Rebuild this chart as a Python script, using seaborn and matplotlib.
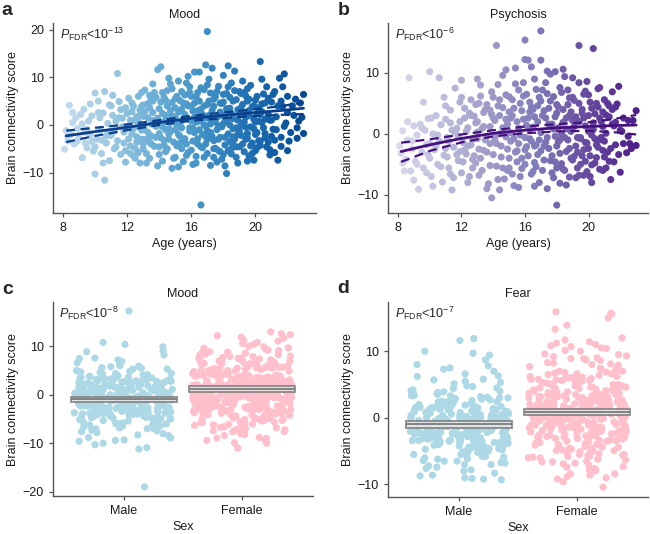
import numpy as np
import pandas as pd
import matplotlib
matplotlib.use("Agg")
import matplotlib.pyplot as plt
from matplotlib.patches import Rectangle
import seaborn as sns


def nums(s):
    return [float(v) for v in s.split()]


def pairs(s):
    v = nums(s)
    return list(zip(v[0::2], v[1::2]))


# ---- panel a: mood score vs age, "age score" pairs ----
mood_pts = pairs("""
8.1 -5.1 8.2 -1.2 8.3 -3.4 8.4 4.1 8.5 -2.0 8.6 0.5 8.7 -4.0 8.8 1.5 8.9 -0.8
9.0 -2.8 9.1 2.2 9.2 -6.9 9.3 3.3 9.4 -1.5 9.5 -4.8 9.6 0.8 9.7 -2.1 9.8 1.9 9.9 -5.5
10.0 6.7 10.0 -10.3 10.1 -3.0 10.2 5.0 10.3 -1.0 10.4 -6.0 10.5 2.5 10.6 7.0 10.6 -11.6
10.7 -3.8 10.8 0.3 10.9 -7.5 10.9 4.2 11.0 -2.2 11.1 2.0 11.2 -5.0 11.3 0.8 11.4 10.8 11.4 -3.3
11.5 4.9 11.6 -6.2 11.7 1.4 11.8 -1.5 11.9 3.6 11.9 -7.8 12.0 -0.3 12.1 5.6 12.2 -4.4 12.3 2.8
12.4 -6.5 12.5 0.9 12.6 -2.5 12.7 6.0 12.8 -8.0 12.9 3.9 12.9 -1.1 13.0 -5.0 13.0 1.8 13.1 7.3
13.2 -3.0 13.3 4.5 13.4 -7.0 13.5 0.2 13.6 2.6 13.7 -4.5 13.8 5.8 13.9 11.6 13.9 -8.6 14.0 -1.8
14.0 3.4 14.1 12.2 14.1 -2.7 14.2 6.8 14.3 0.7 14.4 -5.6 14.5 4.0 14.6 -0.8 14.7 8.6 14.8 -9.1
14.8 1.9 14.9 -3.6 15.0 5.5 15.0 -6.8 15.1 0.1 15.2 9.2 15.3 -2.4 15.4 3.3 15.5 -7.7 15.6 6.3
15.7 -4.0 15.8 1.2 15.9 -1.3 15.9 8.0 16.0 -5.3 16.0 3.9 16.1 -8.3 16.2 11.1 16.3 0.6 16.4 -2.9
16.5 11.1 16.5 5.0 16.6 -16.8 16.6 -4.6 16.7 2.2 16.8 7.4 16.9 12.6 16.9 -0.2 17.0 19.6 17.0 -6.0
17.0 4.3 17.1 9.6 17.2 -8.5 17.2 1.0 17.3 11.9 17.4 -3.3 17.5 5.9 17.6 -1.0 17.7 8.1 17.7 -5.4
17.8 2.7 17.9 -7.2 18.0 4.8 18.0 0.3 18.1 -4.2 18.2 -10.2 18.2 6.6 18.3 12.4 18.3 -1.9 18.4 3.5
18.5 8.8 18.5 -6.1 18.6 1.3 18.7 11.3 18.7 -3.0 18.8 5.3 18.9 -8.0 19.0 2.1 19.0 7.0 19.1 -2.2
19.2 4.3 19.3 -5.6 19.4 6.1 19.4 -0.5 19.5 -7.6 19.6 3.0 19.7 8.3 19.8 -3.8 19.9 1.2 20.0 5.2
20.0 -5.4 20.1 -1.6 20.2 3.6 20.3 13.3 20.3 -4.3 20.4 0.5 20.5 6.5 20.6 -2.7 20.7 8.0 20.8 2.2
20.9 -6.3 21.0 4.8 21.1 -0.9 21.2 7.0 21.3 1.7 21.4 -7.4 21.5 9.8 21.6 -2.6 21.7 3.9 21.8 10.7
21.9 0.4 22.0 -5.4 22.0 6.0 22.2 -1.6 22.4 2.0 22.5 5.4 22.6 -0.6 22.7 0.8 22.8 4.6 23.0 -1.8 23.0 6.4
12.2 1.0 12.4 3.9 12.6 -3.6 12.8 2.0 13.1 -1.0 13.3 1.5 13.5 -2.3 13.6 5.0 13.8 -0.3 14.0 -4.6
14.2 2.4 14.3 -3.2 14.4 5.2 14.6 -1.9 14.7 3.0 14.9 0.8 15.1 -4.4 15.2 2.7 15.3 5.1 15.4 -0.6
15.6 -2.9 15.7 4.4 15.8 -5.8 16.0 0.9 16.1 2.9 16.2 -1.6 16.3 5.9 16.4 -4.0 16.6 3.3 16.7 -2.0
16.8 0.0 16.9 -4.0 17.1 2.0 17.2 6.7 17.3 -2.4 17.4 3.9 17.5 -4.9 17.6 1.6 17.8 -2.6 17.9 4.5
18.0 -6.2 18.1 1.5 18.2 3.4 18.4 -3.5 18.4 0.0 18.6 5.0 18.6 -2.5 18.8 -0.6 18.9 3.2 19.0 -4.6
19.1 6.6 19.2 0.4 19.3 2.5 19.5 -1.8 19.5 5.0 19.7 -4.4 19.8 3.8 19.9 -0.8 20.1 2.4 20.2 -3.3
20.4 4.4 20.6 1.2 20.8 -3.6 21.0 1.0 21.2 -3.2 21.6 5.0 11.2 -1.3 11.5 1.5 11.8 -3.8 10.3 1.5
10.7 -2.3 9.8 -3.5 12.3 -1.8 13.0 4.2 13.7 0.8 14.5 -5.0 15.0 3.6 15.5 1.2 16.5 0.8 17.0 -1.2
17.7 -0.2 18.3 8.0 19.4 -3.0 20.0 0.6 16.8 -6.8 15.9 6.8 14.8 7.6 13.4 6.2 12.5 -4.9 18.5 -5.0
19.6 -6.5 17.4 -6.8
12.0 2.4 12.1 -2.9 12.3 4.6 12.4 -0.8 12.6 1.7 12.7 -5.8 12.8 3.1 12.9 -3.0 13.0 -0.2 13.1 2.8
13.2 -6.0 13.3 -1.6 13.4 3.6 13.5 -4.0 13.6 0.9 13.7 6.8 13.8 -2.6 13.9 1.4 14.0 -6.2 14.1 4.8
14.2 -0.4 14.3 -4.2 14.4 2.0 14.5 7.2 14.6 -3.0 14.7 0.5 14.8 4.7 14.9 -7.0 15.0 -1.0 15.1 6.0
15.2 -2.0 15.3 0.3 15.4 7.0 15.5 -3.4 15.6 2.2 15.7 -6.4 15.8 4.0 15.9 -0.6 16.0 6.0 16.1 -3.4
16.2 1.6 16.3 -6.6 16.4 3.0 16.5 -1.0 16.6 7.8 16.7 -4.8 16.8 4.0 16.9 1.5 17.0 -3.0 17.1 5.0
17.2 -1.6 17.3 3.0 17.4 -5.0 17.5 0.6 17.6 7.0 17.7 -3.0 17.8 4.6 17.9 -0.4 18.0 6.4 18.1 -2.6
18.2 1.0 18.3 -5.4 18.4 5.8 18.5 2.4 18.6 -0.8 18.7 7.2 18.8 -4.6 18.9 1.0 19.0 -1.4 19.1 3.6
19.2 -4.0 19.3 6.8 19.4 1.6 19.5 -2.8 19.6 5.4 19.7 -0.4 19.8 -6.0 19.9 4.0 20.0 -2.0 20.1 6.0
20.2 0.8 20.3 -3.4 20.4 2.8 20.5 -0.6 20.6 4.6 20.7 -4.6 20.8 5.6 20.9 1.0 21.0 -2.4 21.1 6.4
21.3 -1.0 21.4 4.0 21.6 -4.5 21.7 8.0 21.8 -0.3 22.0 2.6 22.1 -3.4 22.3 4.0 22.6 -2.8 22.9 1.6
8.3 -2.4 8.6 2.6 8.9 -3.4 9.2 0.2 9.5 -1.0 9.7 4.4 10.0 -4.6 10.2 2.6 10.5 -8.0 10.8 -1.6
11.0 4.0 11.3 -4.6 11.6 3.2 11.9 -5.4 11.1 6.2 10.4 -3.2 9.4 -3.8 11.7 -0.4 12.5 -7.0 12.9 6.8
13.2 -8.0 13.6 8.6 14.2 -7.6 14.6 9.8 15.2 -8.8 15.8 10.2 16.3 -8.0 17.0 8.4 17.6 -7.8 18.0 10.4
18.8 -6.8 19.2 9.2 19.9 -7.4 20.4 9.6 20.9 -5.2 21.2 -5.8 14.0 0.0 15.5 4.6 16.1 -0.6 17.2 0.2
18.3 3.0 19.1 -0.2 12.7 0.6 13.4 -3.6 14.7 -1.4 15.4 -5.0 16.6 1.2 17.8 -5.6 18.9 -2.0 19.6 2.0
20.3 2.2 13.0 -4.0 14.3 5.8 15.0 1.6 15.7 8.8 16.4 6.8 17.4 5.4 18.1 -8.6 19.5 7.6 20.6 -1.8
12.2 -6.0 13.5 5.4 14.4 -1.0 15.3 -3.8 16.2 4.6 16.9 -2.4 17.9 2.0 18.6 -4.0 19.3 0.6 20.1 -4.8
""")
# fitted curve and confidence band
mood_fit_age = [8.2, 10, 12, 14, 16, 18, 20, 21.5, 23]
mood_fit = [-2.3, -1.4, -0.5, 0.5, 1.4, 2.0, 2.6, 3.0, 3.5]
mood_fit_hi = [-1.2, -0.6, 0.1, 1.0, 1.9, 2.6, 3.3, 3.9, 4.7]
mood_fit_lo = [-3.6, -2.3, -1.1, 0.0, 0.9, 1.4, 1.9, 2.1, 2.3]

# ---- panel b: psychosis score vs age ----
psy_pts = pairs("""
8.1 -2.0 8.2 -3.2 8.3 0.5 8.4 -6.1 8.5 -4.2 8.6 -1.0 8.7 9.2 8.8 -6.1 8.9 -2.5 9.0 1.3
9.1 -4.5 9.2 -0.2 9.3 -9.1 9.4 1.6 9.5 -3.0 9.6 -5.6 9.7 0.6 9.8 -1.8 9.9 2.5 10.0 10.2
10.0 -4.0 10.1 -7.0 10.2 0.0 10.3 -2.6 10.4 3.0 10.5 -5.0 10.6 9.2 10.6 -1.2 10.7 1.5
10.8 -7.9 10.9 -3.5 11.0 2.4 11.1 -0.6 11.2 -5.6 11.3 3.9 11.4 -9.2 11.5 -2.2 11.6 7.5
11.7 0.9 11.8 -4.4 11.9 2.0 12.0 8.8 12.0 -6.4 12.1 -1.4 12.2 4.2 12.3 -3.3 12.4 1.0
12.5 -7.0 12.6 5.6 12.7 -0.9 12.8 2.9 12.9 -4.8 13.0 9.0 13.0 0.3 13.1 -2.5 13.2 6.2
13.3 -6.0 13.4 3.5 13.5 -1.0 13.6 4.8 13.7 -8.2 13.8 1.2 13.9 -10.5 13.9 6.9 14.0 -3.4
14.1 2.2 14.2 14.5 14.2 -5.3 14.3 8.1 14.4 0.0 14.5 -2.0 14.6 4.3 14.7 -7.4 14.8 10.5
14.9 1.6 15.0 -4.0 15.0 6.1 15.1 -1.2 15.2 3.0 15.3 -8.5 15.4 8.2 15.5 -2.8 15.6 0.9
15.7 5.0 15.8 -5.7 15.9 2.4 16.0 15.4 16.0 12.2 16.0 -0.6 16.1 6.5 16.2 12.1 16.2 -3.6
16.3 3.6 16.4 -6.6 16.5 1.1 16.6 9.0 16.7 -1.8 16.8 4.6 16.9 -8.0 17.0 16.9 17.0 12.1
17.0 0.2 17.1 7.2 17.2 -4.3 17.3 2.6 17.4 10.3 17.5 -2.4 17.6 5.4 17.7 -6.4 17.8 0.8
17.9 10.2 18.0 -11.7 18.0 3.4 18.1 -1.3 18.2 7.6 18.3 -4.9 18.4 1.9 18.5 9.4 18.6 -2.9
18.7 4.8 18.8 -7.1 18.9 0.4 19.0 6.0 19.1 -3.7 19.2 2.8 19.3 -5.6 19.4 14.5 19.4 8.4
19.5 -0.8 19.6 4.0 19.7 -6.8 19.8 1.3 19.9 8.6 20.0 -2.4 20.1 5.2 20.2 -5.1 20.3 14.0
20.3 0.7 20.4 3.3 20.5 -3.9 20.6 7.4 20.7 -1.0 20.8 2.0 20.9 -6.0 21.0 5.6 21.1 0.1
21.2 -3.0 21.3 4.6 21.4 -7.5 21.5 6.9 21.6 1.3 21.7 -1.8 21.8 4.9 21.9 7.8 22.0 -6.3
22.1 0.4 22.2 -1.6 22.4 -3.1 22.5 2.2 22.6 -1.6 22.8 2.2 23.0 -1.9 23.0 3.8
12.4 -2.0 12.9 1.8 13.2 -4.0 13.6 -0.4 13.8 3.9 14.1 -1.1 14.4 5.6 14.6 -5.6 14.8 -0.5
15.1 2.6 15.3 4.2 15.5 -4.6 15.7 -0.2 15.9 6.2 16.1 -2.1 16.3 0.8 16.4 4.4 16.6 -4.7
16.8 2.0 16.9 -1.0 17.1 -6.0 17.2 3.8 17.4 -0.6 17.5 1.6 17.7 -3.6 17.8 6.1 18.0 -2.0
18.1 4.4 18.3 0.0 18.4 -5.8 18.6 2.6 18.7 -1.0 18.9 3.6 19.0 -4.3 19.1 5.5 19.3 -0.6
19.4 2.0 19.6 -3.6 19.7 6.5 19.9 -1.5 20.0 3.0 20.2 -0.2 20.4 -4.8 20.5 5.0 20.7 2.6
20.9 -2.7 21.1 3.1 21.3 -4.5 21.5 4.0 21.7 1.9 11.0 -2.4 11.3 -6.6 11.6 0.3 11.9 -2.9
10.5 -0.2 9.9 -3.4 12.2 2.6 12.7 -5.6 13.4 -2.7 14.0 6.0 14.9 -2.5 15.6 7.2 16.5 -6.2
17.3 8.4 18.2 -8.1 18.8 5.9 19.2 -7.2 19.8 -4.5 20.1 -7.0 20.6 -2.2 15.2 -6.6 14.3 -7.5
13.1 5.0 16.7 7.3 17.9 -4.6 18.5 -0.6
8.3 -4.8 8.6 2.0 8.9 -1.2 9.2 -5.0 9.5 1.0 9.8 -6.4 10.1 2.6 10.4 -2.0 10.7 -5.4 11.0 4.6
11.2 -1.2 11.4 0.6 11.7 -3.4 11.9 5.2 12.1 -4.6 12.3 0.4 12.5 3.4 12.6 -1.8 12.8 -3.6 13.0 2.0
13.1 -6.8 13.3 0.9 13.5 4.0 13.6 -3.0 13.8 -5.2 14.0 2.6 14.1 -0.6 14.3 4.6 14.5 -3.8 14.6 1.0
14.8 6.4 14.9 -6.0 15.1 0.2 15.2 5.6 15.4 -3.0 15.5 2.0 15.7 -7.0 15.8 3.8 16.0 -2.6 16.1 1.4
16.3 5.2 16.4 -1.2 16.6 2.8 16.7 -5.4 16.9 6.0 17.0 -2.8 17.1 3.0 17.3 -1.4 17.4 6.6 17.6 -4.4
17.7 1.6 17.9 -0.4 18.0 4.8 18.2 -3.2 18.3 6.8 18.5 -6.0 18.6 0.8 18.8 3.0 18.9 -4.0 19.1 1.2
19.2 -2.0 19.4 5.0 19.5 -5.0 19.7 2.6 19.8 -1.4 20.0 6.4 20.1 -3.6 20.3 1.8 20.4 -0.8 20.6 4.4
20.7 -5.8 20.9 3.6 21.0 -1.2 21.2 5.0 21.4 -2.4 21.5 1.6 21.7 4.4 21.9 -3.4 22.2 2.6 22.5 -0.4
12.0 6.0 13.2 8.0 14.6 9.6 15.4 10.8 16.4 11.0 17.6 9.8 18.4 10.6 19.0 9.2 19.8 7.0 20.7 7.6
12.4 -8.0 13.6 -9.0 14.4 -9.2 15.6 -8.8 16.6 -8.6 17.4 -9.0 18.6 -8.4 19.4 -6.8 20.2 -8.0 21.1 -5.6
9.0 -7.6 9.6 5.2 10.2 -8.6 10.9 6.0 11.5 -7.2 11.8 -0.4 12.2 -2.6 13.4 1.2 14.2 -1.6 15.0 3.6
15.8 -4.0 16.5 4.0 17.2 -2.0 18.1 1.0 18.7 7.2 19.3 -3.0 20.0 0.4 20.8 -0.6 14.8 2.4 16.0 -5.0
17.8 -7.2 19.6 3.4 13.0 -0.8 14.4 3.0 15.6 -1.6 16.8 -3.4 18.0 -5.6 19.0 2.2 20.2 4.2 21.0 -3.8
12.6 3.0 13.8 -1.6 15.0 -5.6 16.2 2.6 17.5 4.2 18.8 -2.4 19.9 -6.2 21.3 2.8 22.0 0.6 22.7 -2.4
11.1 -3.8 12.9 4.8 14.7 0.2 16.3 -0.8 17.9 2.8 19.5 -0.6 20.5 -1.8 15.9 8.4 17.0 5.4 18.4 4.0
10.0 -1.6 11.3 1.8 12.7 -4.2 13.9 3.2 15.3 -0.8 16.6 -2.0 18.2 -1.0 19.7 -2.6 20.9 1.2 21.6 -4.6
""")
psy_fit_age = [8.2, 10, 12, 14, 16, 18, 20, 21.5, 23]
psy_fit = [-2.9, -1.8, -0.75, 0.1, 0.6, 1.0, 1.2, 1.35, 1.45]
psy_fit_hi = [-1.45, -0.9, -0.1, 0.6, 1.2, 1.6, 1.9, 2.4, 3.1]
psy_fit_lo = [-4.6, -2.8, -1.4, -0.4, 0.1, 0.4, 0.5, 0.3, -0.1]

# ---- panels c, d: scores by sex ----
sexes = ["Male", "Female"]

mood_male = nums("""
17.3 -19.0 10.8 10.4 9.9 9.1 8.9 7.6 7.5 7.2 6.6 6.2 5.9 5.6 5.5 5.3 5.0 4.8 4.6 4.4 4.3 4.1 3.9 3.8 3.6 3.5 3.3 3.2
3.1 2.9 2.8 2.7 2.5 2.4 2.3 2.2 2.0 1.9 1.8 1.7 1.6 1.4 1.3 1.2 1.1 1.0 0.9 0.8 0.7 0.6 0.5 0.4 0.3 0.2 0.1 0.0
-0.1 -0.2 -0.3 -0.4 -0.4 -0.5 -0.6 -0.7 -0.8 -0.9 -1.0 -1.0 -1.1 -1.2 -1.3 -1.4 -1.5 -1.6 -1.7 -1.8 -1.9 -2.0
-2.1 -2.2 -2.3 -2.4 -2.5 -2.6 -2.7 -2.8 -2.9 -3.0 -3.1 -3.2 -3.3 -3.4 -3.5 -3.6 -3.7 -3.8 -4.0 -4.1 -4.2 -4.4
-4.5 -4.7 -4.8 -5.0 -5.2 -5.4 -5.6 -5.8 -6.0 -6.3 -6.5 -6.8 -7.0 -7.3 -7.6 -8.0 -8.3 -8.8 -9.4 -9.6 -10.3 -10.9 -11.2
2.6 -0.6 1.5 -2.8 0.3 -1.7 3.4 -3.9 -0.2 1.0 -4.6 2.1 -1.3 -2.4 0.7 -3.3 4.7 -0.9 -5.3 1.9 -1.9 0.4 -2.6 3.0 -4.3
-1.1 2.4 -3.0 -0.5 1.3 -6.2 -2.2 0.9 -3.6 5.8 -1.5 -0.7 2.8 -4.9 -2.0 0.1 3.7 -5.6 -1.4 1.6 -2.9 -7.4 -0.3 2.2
-3.5 4.0 -1.8 -6.6 0.6 -2.5 1.1 -4.1 3.2 -0.8 -3.2 -8.4 0.0 -1.6 2.5 -5.1 -2.7 1.7 -0.1 -3.8 4.4 -9.3 -1.2 -4.4
6.9 -2.3 0.2 -6.0 3.6 -1.0 -3.4
-0.6 1.8 -2.6 0.5 -4.1 2.9 -1.3 -3.2 0.8 -0.1 -5.5 3.8 -2.0 1.2 -1.0 -3.7 4.9 -0.4 -2.3 0.0 -6.9 2.0 -1.6 -4.8 1.4
-0.9 3.3 -2.9 -0.2 -7.8 1.7 -3.4 -1.1 5.3 -2.2 0.6 -4.4 2.6 -0.7 -1.8 -5.9 0.3 3.0 -2.7 -0.5 -3.9 1.1 -8.9 -1.4 4.2
-0.3 -2.4 2.3 -4.7 -1.2 0.9 -6.4 -2.1 1.5 -3.0 6.0 -0.8 -1.9 2.7 -5.0 0.4 -3.6 -1.5 8.2 -2.5 0.1 -4.0 3.5 -7.0 -0.9
1.0 -2.8 -10.0 -1.7 2.1
""")
mood_female = nums("""
13.0 12.6 12.2 11.7 11.1 10.6 10.0 9.6 9.2 8.9 8.6 8.4 8.1 7.9 7.6 7.4 7.2 7.0 6.8 6.6 6.4 6.2 6.0 5.8 5.7 5.5
5.3 5.2 5.0 4.9 4.7 4.6 4.4 4.3 4.1 4.0 3.9 3.7 3.6 3.5 3.3 3.2 3.1 3.0 2.8 2.7 2.6 2.5 2.4 2.2 2.1 2.0 1.9 1.8
1.7 1.6 1.5 1.4 1.3 1.2 1.1 1.0 0.9 0.8 0.7 0.6 0.5 0.4 0.3 0.2 0.1 0.0 -0.1 -0.2 -0.3 -0.4 -0.5 -0.6 -0.7 -0.8
-0.9 -1.0 -1.1 -1.3 -1.4 -1.5 -1.6 -1.8 -1.9 -2.0 -2.2 -2.3 -2.4 -2.6 -2.7 -2.9 -3.0 -3.2 -3.3 -3.5 -3.7 -3.8
-4.0 -4.2 -4.4 -4.6 -4.8 -5.0 -5.3 -5.5 -5.8 -6.1 -6.4 -6.7 -7.0 -7.4 -7.8 -8.2 -8.8 -9.0 -9.3 -9.9 -11.0
3.4 -1.2 5.6 0.4 -3.4 2.3 7.7 -0.5 1.8 -5.1 4.2 0.9 -2.1 6.3 2.9 -0.9 1.1 -4.1 3.8 -1.7 8.8 0.2 -2.8 5.1 1.4
-6.0 2.6 -0.2 4.5 -3.1 0.7 6.9 -1.5 3.1 -4.7 1.9 -0.6 9.7 2.2 -2.5 4.8 0.0 -7.2 3.5 -1.1 1.6 5.9 -3.6 2.0 -0.3
7.3 -5.6 1.2 4.0 -1.9 0.5 -2.9 6.6 2.8 -0.8 3.3 -4.4 1.7 8.3 -1.4 0.3 5.4 -3.9 2.4 -0.1 -6.6 4.6 1.0 -2.2 3.0
7.0 -0.7 -8.4 2.5 0.6 -1.6 5.0 -3.2 1.5 4.1 -5.3 2.7 -0.4 9.1 -2.6 0.8 3.6 -1.0 6.1 -4.0 1.3 -7.6 2.1 4.4 -0.6
-2.4 10.4 0.1 3.9 -3.7 1.9 5.7 -1.3 -5.9 2.8 0.4 -8.9 7.5 -2.0 1.6 4.3 -0.9 3.2 -4.9 0.9 6.4 -1.8 2.3 -6.3 11.9
-0.2 1.4 -3.5 5.2 0.6 -1.5 2.9 -10.0 8.0 3.7 -2.7 1.1 0.0
1.2 3.5 -0.4 2.4 6.0 -2.4 0.9 4.4 -1.1 7.9 -3.6 2.0 -0.1 5.3 1.6 -5.0 3.0 0.4 -1.8 8.6 2.6 -3.0 0.8 4.7 -0.6
1.9 -6.8 3.7 0.1 6.7 -2.0 1.3 -4.2 2.9 5.5 -0.9 -1.4 3.2 0.6 10.8 -2.7 1.8 4.0 -7.6 0.3 2.4 -0.3 6.2 -3.3 1.5
9.4 -1.0 2.7 -5.4 0.7 3.9 -2.2 1.1 7.0 -0.5 4.9 -4.6 2.2 0.0 -1.6 5.8 -8.0 1.4 3.3 -0.8 2.8 -3.9 0.5 7.5 -2.5
1.7 4.2 -6.2 0.2 -1.2 3.6 9.9 -0.2 2.1 -4.9 1.0 5.0 -2.9 0.8 -9.4 3.1 -1.5 6.5 1.3 -3.4 2.5 -0.7 4.6 -5.7 1.6
8.4 -1.9 0.4 3.4 -2.3 2.0 -0.4 5.6 -7.2 1.1 11.2 -3.0 2.3 0.6 -1.3 4.3 -4.4 1.8 12.4 -0.9
""")
fear_male = nums("""
11.9 11.6 10.0 9.7 9.4 8.7 8.0 7.8 7.3 7.0 6.6 6.2 5.8 5.5 5.1 4.7 4.4 4.2 4.0 3.8 3.6 3.4 3.2 3.0 2.9 2.7 2.5
2.4 2.2 2.1 1.9 1.8 1.6 1.5 1.3 1.2 1.0 0.9 0.8 0.6 0.5 0.4 0.2 0.1 0.0 -0.1 -0.2 -0.4 -0.5 -0.6 -0.7 -0.8 -0.9
-1.0 -1.1 -1.2 -1.3 -1.4 -1.5 -1.6 -1.7 -1.8 -1.9 -2.0 -2.1 -2.2 -2.3 -2.4 -2.5 -2.6 -2.7 -2.8 -2.9 -3.0 -3.1
-3.2 -3.3 -3.4 -3.5 -3.6 -3.7 -3.8 -3.9 -4.0 -4.1 -4.3 -4.4 -4.6 -4.7 -4.9 -5.1 -5.3 -5.5 -5.7 -5.9 -6.1 -6.4
-6.7 -7.0 -7.4 -7.8 -8.3 -8.7 -9.0 -9.1 -9.3
-1.5 0.3 -3.6 1.4 -0.6 -2.4 2.6 -4.5 -1.1 0.7 -2.9 3.5 -0.3 -5.2 1.1 -1.8 -3.9 2.0 -0.9 -6.0 0.4 -2.2 4.1 -1.4
-3.3 1.7 -0.1 -4.8 2.8 -2.6 -0.7 -7.2 1.0 -1.9 3.1 -3.0 0.0 -5.6 -1.2 2.3 -2.0 -0.4 -4.2 1.5 -2.8 0.6 -3.5 -1.6
4.5 -0.8 -6.5 0.9 -2.5 2.1 -1.0 -4.0 0.2 -3.2 1.8 -0.5 -5.0 3.9 -1.7 -2.1 0.5 -3.7 1.2 -0.2 -8.0 2.4 -1.3 -4.4
0.8 -2.7 5.3 -0.9 -3.4 1.6 -5.8 -1.1 0.1 -2.3 3.3 -4.6 -0.6 -1.8 2.2 -3.1 -6.8 0.3 -2.0 1.3 -0.4 -3.8 -1.5
-0.8 1.9 -2.9 0.4 -4.3 -1.5 2.8 -0.2 -3.5 1.2 -2.0 -5.8 0.7 -1.2 3.6 -3.0 -0.5 -6.5 1.5 -2.4 -0.9 4.8 -4.6 0.0
-1.8 2.4 -3.3 -7.6 -1.0 0.9 -2.6 5.7 -0.3 -4.0 1.7 -1.6 -2.2 -8.6 0.2 3.0 -3.8 -1.1 -5.2 1.0 -0.6 -2.7 6.3 -4.8
-0.1 2.1 -1.4 -3.2 0.6 -6.2 -2.1 1.4 -0.4 -4.1 3.3 -1.9 -7.0 0.3 -2.5 -0.7 2.6 -3.6 -5.5 1.1 -1.3 7.5 -2.8 0.8
-4.5 -1.7 2.0 -3.1 -0.2 -9.2 1.6 -2.3
""")
fear_female = nums("""
15.9 15.7 15.6 15.0 13.3 11.7 11.2 11.0 10.8 10.5 10.4 10.0 9.6 9.2 8.9 8.6 8.3 8.0 7.7 7.4 7.2 7.0 6.7 6.5 6.2
6.0 5.8 5.6 5.4 5.2 5.0 4.8 4.6 4.4 4.2 4.0 3.8 3.7 3.5 3.3 3.2 3.0 2.9 2.7 2.6 2.4 2.3 2.1 2.0 1.9 1.7 1.6 1.5
1.3 1.2 1.1 1.0 0.9 0.8 0.7 0.5 0.4 0.3 0.2 0.1 0.0 -0.1 -0.2 -0.3 -0.5 -0.6 -0.7 -0.8 -1.0 -1.1 -1.2 -1.4 -1.5
-1.6 -1.8 -1.9 -2.1 -2.2 -2.4 -2.5 -2.7 -2.9 -3.0 -3.2 -3.4 -3.6 -3.8 -4.0 -4.2 -4.4 -4.6 -4.8 -5.0 -5.2 -5.5
-5.7 -6.0 -6.3 -6.6 -6.9 -7.3 -7.6 -8.0 -8.4 -8.8 -9.2 -10.4
1.8 -0.4 3.4 0.6 -2.3 2.2 5.1 -1.3 0.9 -3.5 4.3 1.4 -0.9 6.8 -4.7 2.5 0.0 -1.7 3.9 -6.2 1.1 8.2 -2.6 0.3 4.7
-0.2 2.8 -5.4 1.6 -1.0 6.1 -3.1 0.7 2.0 -7.1 3.6 -0.6 1.3 9.0 -2.0 0.4 5.5 -4.1 2.6 -1.5 -0.1 3.1 -8.6 1.0 7.3
-2.8 0.5 4.9 -1.2 2.3 -5.9 0.8 -3.7 3.8 1.5 -0.7 6.4 -2.2 1.9 -4.4 0.2 10.1 -1.9 2.9 -6.5 1.2 4.1 -0.3 -3.3 2.1
7.9 -1.4 0.6 -2.9 5.3 1.7 -5.1 3.3 -0.8 0.1 -7.8 2.7 4.5 -1.6 -3.9 1.4 12.0 -0.5 2.4 -4.9 6.6 0.9 -2.4 3.5 -1.1
-6.8 1.8 5.7 -0.2 2.0 -3.0 8.7 -1.8 0.3 4.0 -5.6 1.1 -2.1 3.0 -0.9 7.0 -9.0 1.6 -4.3 2.8 0.0 -1.3 5.9 -2.7 3.7
-0.6 1.3 -7.4 4.6 -3.5 0.7 9.5 -1.5 2.2 -5.8 0.4 3.2 -2.5 1.0 6.3 -0.4
0.9 3.0 -1.1 2.1 5.6 -2.9 0.3 4.1 -0.6 7.7 -4.0 1.5 -0.2 6.0 2.4 -5.2 3.6 0.6 -1.9 9.3 1.8 -3.4 0.0 4.8 -1.3
2.7 -6.6 3.2 0.8 6.9 -2.2 1.2 -4.6 2.9 5.0 -0.8 -1.5 3.9 0.5 10.7 -2.6 1.7 4.4 -7.8 0.2 2.3 -0.4 6.6 -3.2 1.4
8.9 -1.0 2.6 -5.5 0.7 3.4 -2.0 1.0 7.4 -0.5 4.6 -4.2 2.0 -0.1 -1.7 5.8 -8.4 1.3 3.1 -0.9 2.5 -3.6 0.4 8.1 -2.4
1.6 4.2 -6.0 0.1 -1.2 3.7 11.4 -0.3 2.2 -4.9 1.1 5.3 -2.8 0.6 -9.6 3.3 -1.4 6.2 1.9 -3.1 2.8 -0.7 4.9 -5.8 1.5
13.9 -1.8
""")

mood_sex_mean = [-0.9, 1.2]
mood_sex_lo = [-1.5, 0.65]
mood_sex_hi = [-0.4, 1.75]
fear_sex_mean = [-0.95, 0.9]
fear_sex_lo = [-1.45, 0.4]
fear_sex_hi = [-0.45, 1.4]

sns.set_style("ticks")
plt.rcParams["font.family"] = ["Liberation Sans", "DejaVu Sans"]
plt.rcParams["mathtext.fontset"] = "custom"
plt.rcParams["mathtext.rm"] = "Liberation Sans"
plt.rcParams["mathtext.it"] = "Liberation Sans:italic"
plt.rcParams["axes.edgecolor"] = "#555555"
plt.rcParams["axes.linewidth"] = 1.0
plt.rcParams["xtick.color"] = "#555555"
plt.rcParams["ytick.color"] = "#555555"
plt.rcParams["xtick.labelcolor"] = "#1a1a1a"
plt.rcParams["ytick.labelcolor"] = "#1a1a1a"

fig = plt.figure(figsize=(6.5, 5.34), dpi=100)
ax_a = fig.add_axes([0.0815, 0.601, 0.404, 0.356])
ax_b = fig.add_axes([0.597, 0.601, 0.400, 0.356])
ax_c = fig.add_axes([0.0815, 0.071, 0.400, 0.363])
ax_d = fig.add_axes([0.597, 0.069, 0.400, 0.365])

FS = 9


def style_axis(ax, title, letter, ptext, xlabel):
    sns.despine(ax=ax)
    ax.set_title(title, fontsize=FS, pad=3.5, color="#1a1a1a")
    ax.set_ylabel("Brain connectivity score", fontsize=FS, color="#1a1a1a", labelpad=3)
    ax.set_xlabel(xlabel, fontsize=FS, color="#1a1a1a", labelpad=3)
    ax.tick_params(labelsize=FS, length=3, width=0.9)
    ax.text(0.025, 0.985, ptext, transform=ax.transAxes, ha="left", va="top", fontsize=FS)
    ax.text(-0.195, 1.068, letter, transform=ax.transAxes, ha="left", va="center",
            fontsize=14, fontweight="bold")


def age_panel(ax, pts, fit_x, fit, lo, hi, cmap, line_col):
    df = pd.DataFrame(pts, columns=["age", "score"]).sort_values("age")
    sns.scatterplot(data=df, x="age", y="score", hue="age", palette=cmap,
                    hue_norm=(2.2, 25.3), s=26, linewidth=0, legend=False, ax=ax)
    ax.plot(fit_x, fit, color=line_col, lw=2.0, zorder=5)
    ax.plot(fit_x, lo, color=line_col, lw=1.6, ls=(0, (4, 2.5)), zorder=5)
    ax.plot(fit_x, hi, color=line_col, lw=1.6, ls=(0, (4, 2.5)), zorder=5)
    ax.set_xlim(7.375, 23.75)
    ax.set_xticks([8, 12, 16, 20])


def sex_panel(ax, male, female, mean, lo, hi):
    df = pd.DataFrame({"Sex": ["Male"] * len(male) + ["Female"] * len(female),
                       "score": male + female})
    sns.stripplot(data=df, x="Sex", y="score", order=sexes, hue="Sex", hue_order=sexes,
                  palette={"Male": "#add8e6", "Female": "#ffc0cb"}, jitter=0.42,
                  size=5.2, linewidth=0, legend=False, ax=ax)
    for i in range(len(sexes)):
        ax.add_patch(Rectangle((i - 0.45, lo[i]), 0.9, hi[i] - lo[i], facecolor="#e6e6e6",
                               edgecolor="#7a7a7a", lw=1.3, alpha=0.85, zorder=4))
        ax.hlines(mean[i], i - 0.45, i + 0.45, color="#7a7a7a", lw=1.3, zorder=5)
    ax.set_xlim(-0.6, 1.6)


np.random.seed(3)
age_panel(ax_a, mood_pts, mood_fit_age, mood_fit, mood_fit_lo, mood_fit_hi, "Blues", "#0b3f8c")
ax_a.set_ylim(-18.5, 21.4)
ax_a.set_yticks([-10, 0, 10, 20])
style_axis(ax_a, "Mood", "a", r"$P_{\mathrm{FDR}}$<10$^{-13}$", "Age (years)")

age_panel(ax_b, psy_pts, psy_fit_age, psy_fit, psy_fit_lo, psy_fit_hi, "Purples", "#46117f")
ax_b.set_ylim(-13.0, 18.2)
ax_b.set_yticks([-10, 0, 10])
style_axis(ax_b, "Psychosis", "b", r"$P_{\mathrm{FDR}}$<10$^{-6}$", "Age (years)")

sex_panel(ax_c, mood_male, mood_female, mood_sex_mean, mood_sex_lo, mood_sex_hi)
ax_c.set_ylim(-20.9, 19.1)
ax_c.set_yticks([-20, -10, 0, 10])
style_axis(ax_c, "Mood", "c", r"$P_{\mathrm{FDR}}$<10$^{-8}$", "Sex")

sex_panel(ax_d, fear_male, fear_female, fear_sex_mean, fear_sex_lo, fear_sex_hi)
ax_d.set_ylim(-11.9, 17.35)
ax_d.set_yticks([-10, 0, 10])
style_axis(ax_d, "Fear", "d", r"$P_{\mathrm{FDR}}$<10$^{-7}$", "Sex")

fig.savefig("out.png", dpi=100)
